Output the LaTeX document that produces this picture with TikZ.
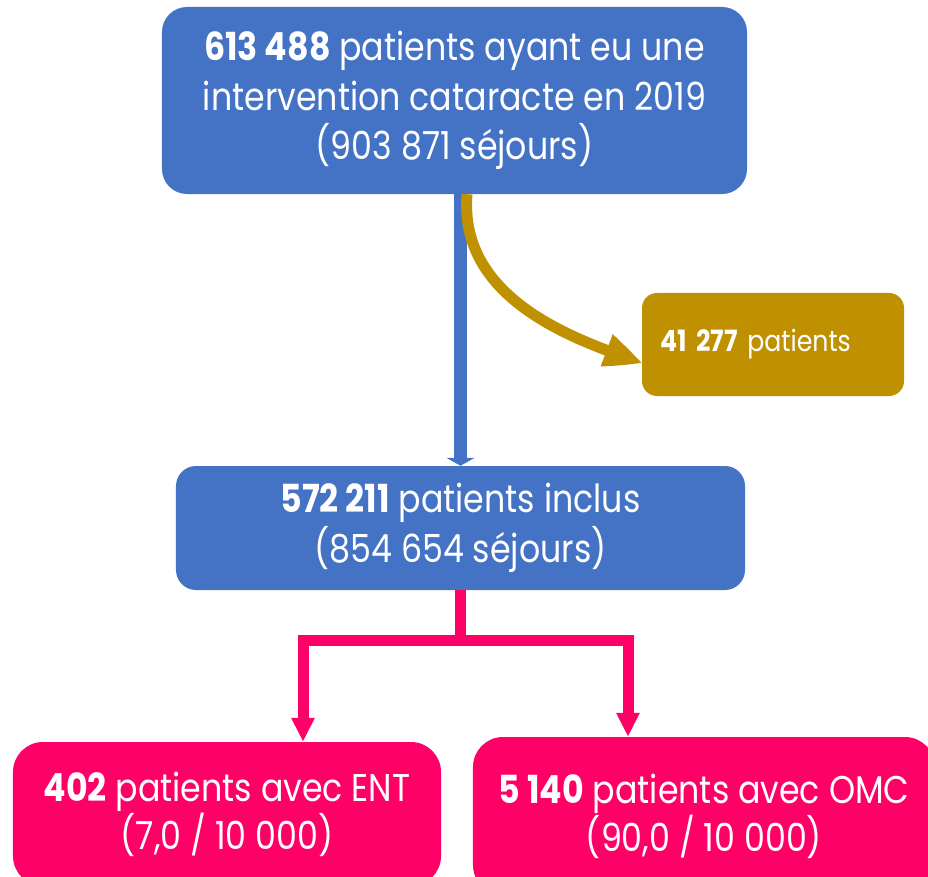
\documentclass[tikz,border=0pt]{standalone}
\usepackage{fontspec}
\setmainfont{Poppins}[FakeStretch=0.86]
\usetikzlibrary{positioning, calc, arrows.meta, bending}
\definecolor{boxblue}{HTML}{4472C4}
\definecolor{boxpink}{HTML}{FF0066}
\definecolor{boxgold}{HTML}{BF9000}
\tikzstyle{BlueArrow} = [
%Straight arrow between the blue boxes:
draw=boxblue, line width=0.39cm,
-{Triangle[width=0.84cm, length=0.24cm]}
]
\tikzstyle{PinkArrow} = [
%Elbow arrows to the pink boxes:
draw=boxpink, line width=0.33cm, line join=miter,
-{Triangle[width=0.66cm, length=0.72cm]}
]
\tikzstyle{GoldArrow} = [
%Curved arrow to the excluded patients:
draw=boxgold, line width=0.33cm,
-{Triangle[width=1.0cm, length=1.0cm, bend]}
]

\begin{document}
\begin{tikzpicture}[x=0.03cm, y=-0.03cm,
		bluebox/.style = {rectangle, fill=boxblue, text=white, align=center, inner sep=0pt, font=\fontsize{33}{42.5}\selectfont},
		pinkbox/.style = {rectangle, fill=boxpink, text=white, align=center, inner sep=0pt, rounded corners=0.9cm, font=\fontsize{33}{41}\selectfont},
		goldbox/.style = {rectangle, fill=boxgold, text=white, align=left, inner ysep=0pt, inner xsep=0.54cm, rounded corners=0.45cm, font=\fontsize{25}{30}\selectfont},
	]
	\useasboundingbox (0,0) rectangle (928,877);
	\clip (0,0) rectangle (928,877);

	\node[bluebox, rounded corners=0.75cm, minimum width=17.55cm, minimum height=5.61cm](top) at (454.5,100.5){\textbf{613 488} patients ayant eu une\\intervention cataracte en 2019\\(903 871 séjours)};
	\node[goldbox, text width=6.78cm, minimum height=3.09cm](excl) at (773,344.5){\textbf{41 277} patients};
	\node[bluebox, rounded corners=0.6cm, minimum width=17.07cm, minimum height=3.72cm](incl) at (460.5,528){\textbf{572 211} patients inclus\\(854 654 séjours)};
	\node[pinkbox, minimum width=12.84cm, minimum height=4.32cm](ent) at (227,814){\textbf{402} patients avec ENT\\(7,0 / 10 000)};
	\node[pinkbox, minimum width=13.86cm, minimum height=4.74cm](omc) at (704,816){\textbf{5 140} patients avec OMC\\(90,0 / 10 000)};

	\draw[BlueArrow](top.south -| incl.north)--(incl.north);
	\draw[GoldArrow]([xshift=0.375cm]top.south) .. controls +(-9,110) and +(-55,-20) .. ([yshift=-0.555cm]excl.west);
	\draw[PinkArrow](incl.south)--++(0,50)-|([xshift=2.28cm]ent.north);
	\draw[PinkArrow](incl.south)--++(0,50)-|([xshift=-2.28cm]omc.north);
\end{tikzpicture}
\end{document}
